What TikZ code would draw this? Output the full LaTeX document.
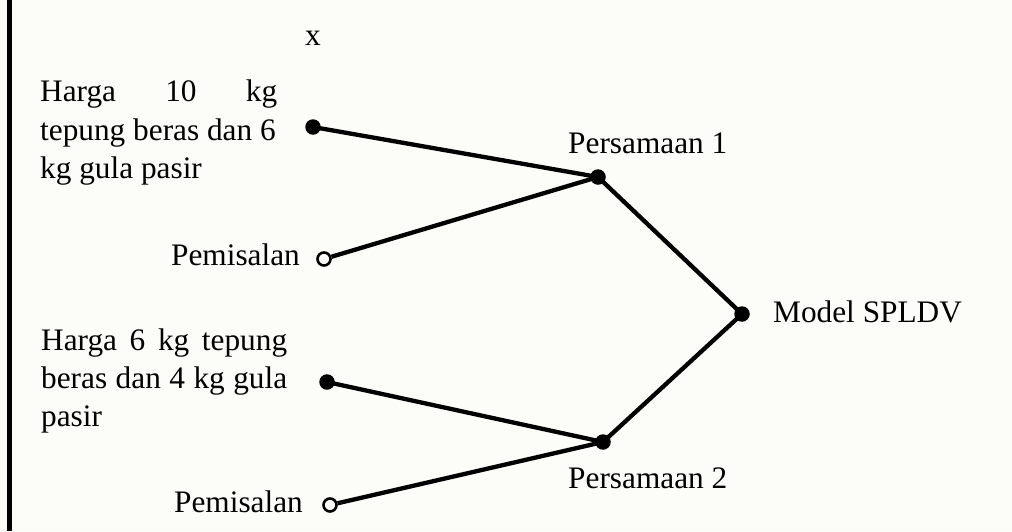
\documentclass[tikz,border=0pt]{standalone}
\usepackage{fontspec}
\setmainfont{Liberation Serif}
\definecolor{paper}{RGB}{252,253,248}
\begin{document}
\begin{tikzpicture}[x=1pt,y=-1pt,
  txt/.style={inner sep=0pt,font=\fontsize{31.3}{38.3}\selectfont},
  full/.style={circle,fill=black,inner sep=0pt,minimum size=15.5pt},
  hollow/.style={circle,draw=black,fill=paper,line width=2.6pt,inner sep=0pt,minimum size=13pt},
  link/.style={line width=4.3pt}]
  % page
  \fill[paper] (0,0) rectangle (1012,531);
  \useasboundingbox (0,0) rectangle (1012,531);
  \draw[line width=4.2pt] (9.5,0) -- (9.5,531);

  % stray letter
  \node[txt,anchor=base west] (xmark) at (305,45) {x};

  % text blocks (anchored at the baseline of their last line)
  \node[txt,anchor=base west,align=left] (info1) at (40,178.3)
    {\makebox[237pt][s]{Harga 10 kg}\\tepung beras dan 6\\kg gula pasir};
  \node[txt,anchor=base west,align=left] (info2) at (41,426.6)
    {\makebox[246pt][s]{Harga 6 kg tepung}\\\makebox[246pt][s]{beras dan 4 kg gula}\\pasir};
  \node[txt,anchor=base east] (pem1) at (300,265) {Pemisalan};
  \node[txt,anchor=base east] (pem2) at (303,512) {Pemisalan};
  \node[txt,anchor=base west] (lbl1) at (568,153) {Persamaan 1};
  \node[txt,anchor=base west] (lbl2) at (568,488) {Persamaan 2};
  \node[txt,anchor=base west] (lblm) at (773,322) {Model SPLDV};

  % junction points
  \node[full] (a1) at (313,127) {};
  \node[hollow] (h1) at (324,259) {};
  \node[full] (p1) at (598,177) {};
  \node[full] (m) at (742,314) {};
  \node[full] (a2) at (327,382) {};
  \node[full] (p2) at (603,442) {};
  \node[hollow] (h2) at (330,505) {};

  % connectors
  \draw[link] (a1.center) -- (p1.center);
  \draw[link] (h1) -- (p1.center);
  \draw[link] (p1.center) -- (m.center);
  \draw[link] (a2.center) -- (p2.center);
  \draw[link] (h2) -- (p2.center);
  \draw[link] (p2.center) -- (m.center);
\end{tikzpicture}
\end{document}
